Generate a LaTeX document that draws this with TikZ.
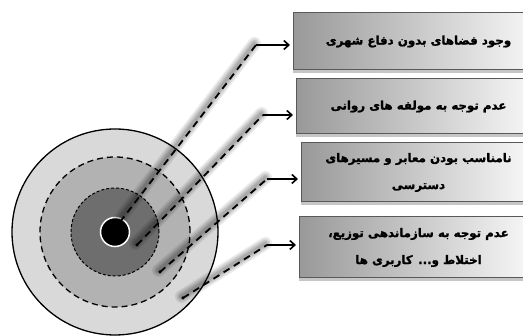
\documentclass[tikz,border=0pt]{standalone}
\usepackage{fontspec}
\newfontfamily\arabicfont[Script=Arabic,FakeBold=1.5]{DejaVu Sans Bold}
\TeXXeTstate=1
\usetikzlibrary{arrows.meta,shadows}
\definecolor{ringA}{RGB}{217,217,217}
\definecolor{ringB}{RGB}{178,178,178}
\definecolor{ringC}{RGB}{110,110,110}
\tikzset{
  box/.style={draw=black!65, line width=1pt, left color=black!40, right color=black!2,
    anchor=west, align=center, inner sep=0pt,
    font=\arabicfont\fontsize{11.8}{27}\selectfont,
    drop shadow={shadow xshift=-1pt, shadow yshift=-3pt, opacity=0.45}},
  halo/.style={draw=black, line cap=round, opacity=0.08, line width=#1},
  dline/.style={draw=black, line width=1.8pt, dash pattern=on 7pt off 5pt},
  arr/.style={-{Straight Barb[length=5pt,width=9pt]}, line width=1.6pt, shorten >=3pt},
  sdot/.style={circle, fill=black, inner sep=0pt, minimum size=3.5pt}
}
\begin{document}
\begin{tikzpicture}[x=1pt,y=-1pt]
\useasboundingbox (0,0) rectangle (523,336);
\clip (0,0) rectangle (523,336);
% target circles
\draw[line width=1.3pt, fill=ringA] (115,232) circle (103pt);
\draw[line width=1.3pt, fill=ringB, dash pattern=on 6pt off 4pt] (115,232) circle (75pt);
\draw[line width=1pt, fill=ringC, dash pattern=on 3pt off 2pt] (115,232) circle (44pt);
\node[circle, fill=black, draw=white, line width=1.5pt, minimum size=29pt, inner sep=0pt] (c) at (115,232) {};
% boxes
\node[box, minimum width=250pt, minimum height=57pt] (b1) at (293,41.5) {\beginR وجود فضاهای بدون دفاع شهری\endR};
\node[box, minimum width=244pt, minimum height=55pt] (b2) at (296,106.5) {\beginR عدم توجه به مولفه های روانی\endR};
\node[box, minimum width=234pt, minimum height=59pt] (b3) at (301,172.5) {\beginR نامناسب بودن معابر و مسیرهای\endR\\\beginR دسترسی\endR};
\node[box, minimum width=238pt, minimum height=61pt] (b4) at (299,247.5) {\beginR عدم توجه به سازماندهی توزیع،\endR\\\beginR اختلاط و... کاربری ها\endR};
% start points and elbows
\coordinate (s1) at (120,222);
\coordinate (s2) at (137,245);
\coordinate (s3) at (160,272);
\coordinate (s4) at (183,298);
\coordinate (e1) at (256,45);
\coordinate (e2) at (263,115);
\coordinate (e3) at (267,179);
\coordinate (e4) at (267,245);
% halos
\foreach \i in {1,2,3,4}{
  \foreach \w in {13pt,10pt,7.5pt,5pt,3pt}{
    \draw[halo=\w] ([xshift=-1.5pt,yshift=1.5pt]s\i) -- ([xshift=-1.5pt,yshift=1.5pt]e\i);
  }
}
% dashed connectors
\foreach \i in {1,2,3,4}{
  \draw[dline] (s\i) -- (e\i);
}
\node[sdot] (d2) at (s2) {};
\node[sdot] (d3) at (s3) {};
\node[sdot] (d4) at (s4) {};
% arrows
\draw[arr] (e1) -- (e1 -| b1.west);
\draw[arr] (e2) -- (e2 -| b2.west);
\draw[arr] (e3) -- (e3 -| b3.west);
\draw[arr] (e4) -- (e4 -| b4.west);
\end{tikzpicture}
\end{document}
